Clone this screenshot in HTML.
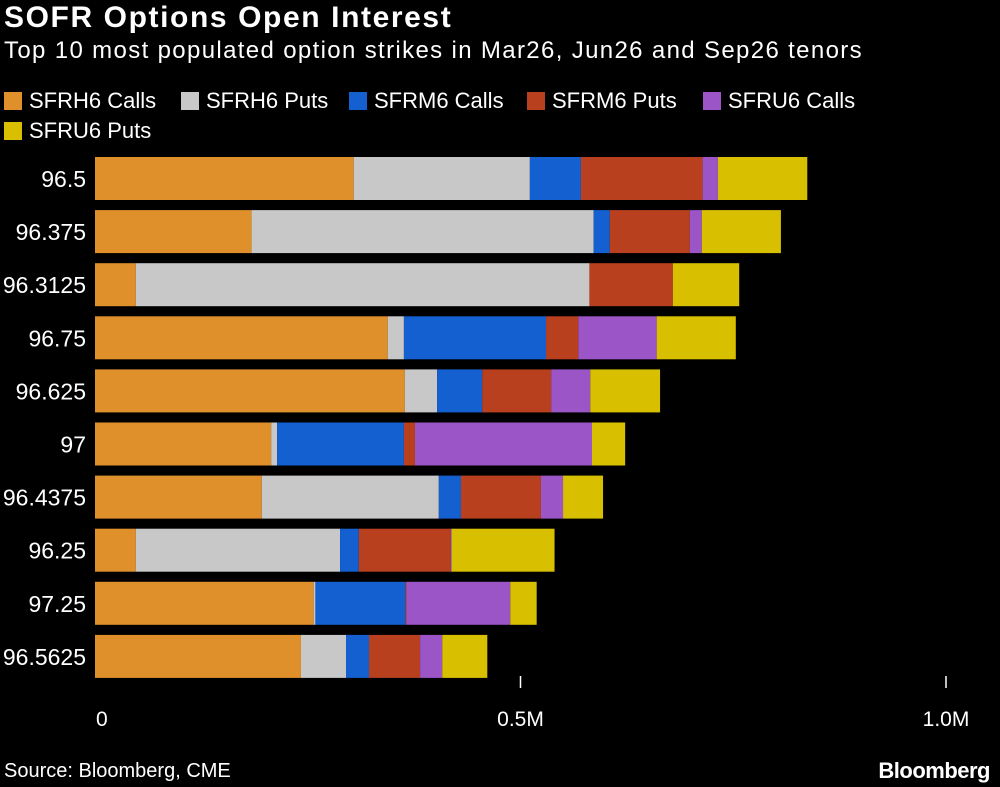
<!DOCTYPE html>
<html><head><meta charset="utf-8"><style>
body{margin:0;background:#000;width:1000px;height:787px;overflow:hidden;font-family:"Liberation Sans",sans-serif;color:#fff;position:relative}
.t{position:absolute;white-space:nowrap}
.leg{position:absolute;display:flex;align-items:center;font-size:22px;white-space:nowrap}
.sw{width:18px;height:18px;margin-right:7px}
</style></head><body>
<div class="t" style="left:4px;top:1px;font-size:30px;font-weight:bold;letter-spacing:1.6px">SOFR Options Open Interest</div>
<div class="t" style="left:4px;top:37px;font-size:24px;letter-spacing:1.35px">Top 10 most populated option strikes in Mar26, Jun26 and Sep26 tenors</div>
<div id="legend"></div>
<svg id="chart" width="1000" height="787" style="position:absolute;left:0;top:0"></svg>
<div class="t" style="left:4px;top:760px;font-size:20px">Source: Bloomberg, CME</div>
<div class="t" style="right:10px;top:758px;font-size:22px;font-weight:bold;letter-spacing:-0.5px">Bloomberg</div>
<script>
const categories=["96.5","96.375","96.3125","96.75","96.625","97","96.4375","96.25","97.25","96.5625"];
const seriesNames=["SFRH6 Calls","SFRH6 Puts","SFRM6 Calls","SFRM6 Puts","SFRU6 Calls","SFRU6 Puts"];
const h6Calls=[304,184,48,344,364,207,196,48,257,242];
const h6Puts=[207,402,533,19,38,7,208,240,2,53];
const m6Calls=[60,19,0,167,53,149,26,22,106,27];
const m6Puts=[143,94,98,38,81,13,94,108,1,60];
const u6Calls=[18,14,0,92,46,208,26,1,122,26];
const u6Puts=[105,93,78,93,82,39,47,121,31,53];
const tickValues=[0,500,1000];
const tickLabels=["0","0.5M","1.0M"];
const colors=["#e0902a","#c8c8c8","#1560d0","#b8401e","#9b55c6","#d8c000"];
const series=[h6Calls,h6Puts,m6Calls,m6Puts,u6Calls,u6Puts];
const x=v=>95+v*0.851;
const y=i=>157+i*53.1;
const svg=document.getElementById('chart');
const NS="http://www.w3.org/2000/svg";
const leg=document.getElementById('legend');
const lpos=[[4,88],[181,88],[349,88],[527,88],[703,88],[4,118]];
seriesNames.forEach((n,k)=>{
  const d=document.createElement('div');d.className='leg';
  
  
  d.style.left=lpos[k][0]+'px';d.style.top=lpos[k][1]+'px';
  d.innerHTML='<div class="sw" style="background:'+colors[k]+'"></div>'+n;
  leg.appendChild(d);
});
categories.forEach((c,i)=>{
  let acc=0;
  series.forEach((s,k)=>{
    const r=document.createElementNS(NS,'rect');
    r.setAttribute('x',x(acc));r.setAttribute('y',y(i));
    r.setAttribute('width',Math.max(0,x(acc+s[i])-x(acc)));r.setAttribute('height',43);
    r.setAttribute('fill',colors[k]);
    
    
    svg.appendChild(r);acc+=s[i];
  });
  const t=document.createElementNS(NS,'text');
  t.setAttribute('x',86);t.setAttribute('y',y(i)+30);t.setAttribute('text-anchor','end');
  t.setAttribute('fill','#fff');t.setAttribute('font-size','23');
  t.setAttribute('font-family','Liberation Sans, sans-serif');
  
  
  t.textContent=c;svg.appendChild(t);
});
tickValues.forEach((v,j)=>{
  if(v>0){const l=document.createElementNS(NS,'line');
  l.setAttribute('x1',x(v));l.setAttribute('x2',x(v));l.setAttribute('y1',676);l.setAttribute('y2',688);
  l.setAttribute('stroke','#fff');l.setAttribute('stroke-width','1.5');
  
  
  svg.appendChild(l);}
  const t=document.createElementNS(NS,'text');
  t.setAttribute('x',x(v)+(v==0?1:0));t.setAttribute('y',726);t.setAttribute('text-anchor',v==0?'start':'middle');
  t.setAttribute('fill','#fff');t.setAttribute('font-size','21');
  t.setAttribute('font-family','Liberation Sans, sans-serif');
  
  
  t.textContent=tickLabels[j];svg.appendChild(t);
});
</script>
</body></html>
